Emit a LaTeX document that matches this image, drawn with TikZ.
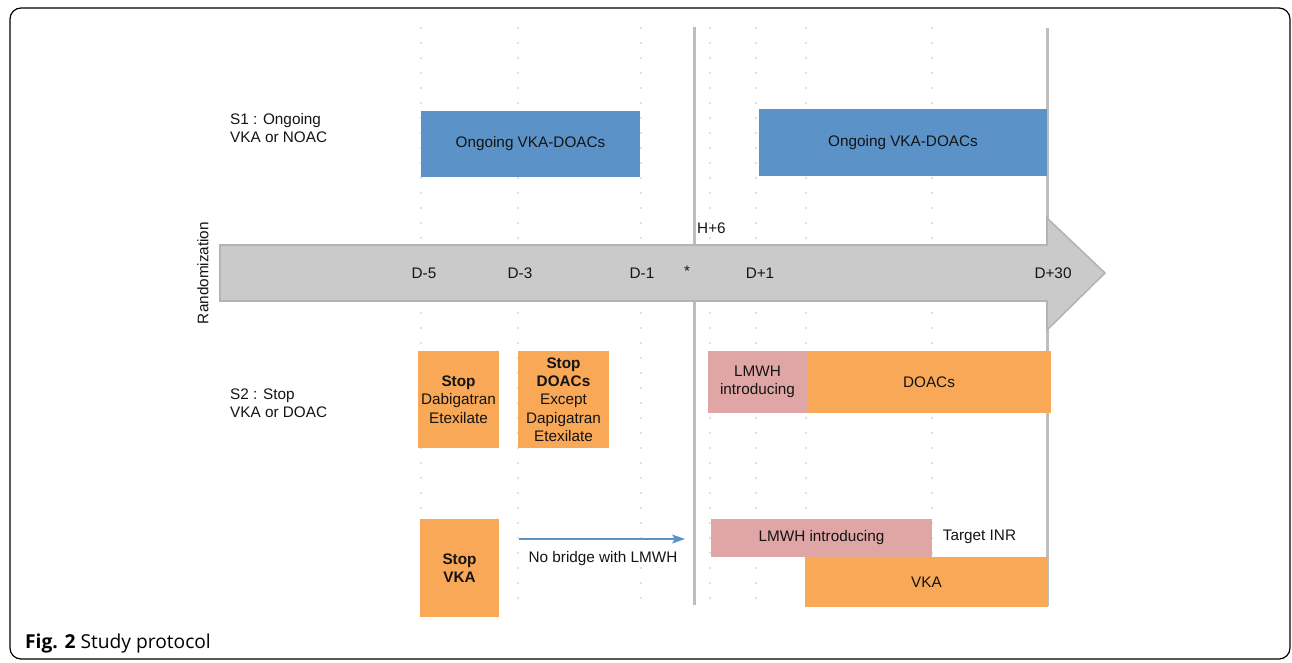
\documentclass[tikz,border=0pt]{standalone}
\usepackage{fontspec}
\setmainfont{Liberation Sans}
\newfontfamily\capfont{Open Sans}
\usetikzlibrary{arrows.meta}
\definecolor{blueb}{RGB}{91,146,200}
\definecolor{orangeb}{RGB}{248,168,86}
\definecolor{pinkb}{RGB}{224,166,166}
\definecolor{arrfill}{RGB}{202,202,202}
\definecolor{arrline}{RGB}{180,180,180}
\definecolor{vline}{RGB}{190,190,190}
\definecolor{dotc}{RGB}{225,225,225}
\definecolor{txt}{RGB}{20,20,20}
\begin{document}
\begin{tikzpicture}[x=1pt,y=-1pt,
  every node/.style={text=txt,font=\fontsize{15.3}{18.3}\selectfont,inner sep=0pt},
  bluebox/.style={fill=blueb,align=center},
  orbox/.style={fill=orangeb,align=center},
  pkbox/.style={fill=pinkb,align=center},
  lbl/.style={align=left,anchor=west},
  dotline/.style={dotc,line width=2.2pt,dash pattern=on 2.2pt off 12.8pt},
  sepline/.style={vline,line width=3pt}]
\useasboundingbox (0,0) rectangle (1292,662);
% frame
\draw[black,line width=1.2pt,rounded corners=11pt] (10,8) rectangle (1290,659);
% dotted columns
\foreach \xx in {421,518,641,710,756,806,932}{
  \draw[dotline] (\xx,27) -- (\xx,605);
}
% solid vertical lines
\draw[sepline] (694,27) -- (694,605);
\draw[sepline] (1047,28) -- (1047,606);
% big timeline arrow
\draw[fill=arrfill,draw=arrline,line width=1.6pt]
  (220,245) -- (1047,245) -- (1047,218) -- (1105,273) -- (1047,330) -- (1047,301) -- (220,301) -- cycle;
\node[rotate=90] (rand) at (203,273) {Randomization};
\node (d5) at (424,273) {D-5};
\node (d3) at (520,273) {D-3};
\node (d1) at (642,273) {D-1};
\node (star) at (687,271) {*};
\node (dp1) at (760,273) {D+1};
\node (d30) at (1053,273) {D+30};
\node[anchor=west] (h6) at (697,228) {H+6};
% S1
\node[lbl] (s1) at (230,128) {S1 : Ongoing\\VKA or NOAC};
\node[bluebox,minimum width=219pt,minimum height=66pt] (b1) at (530.5,144) {Ongoing VKA-DOACs};
\node[bluebox,minimum width=288pt,minimum height=67pt] (b2) at (903,142.5) {Ongoing VKA-DOACs};
% S2
\node[lbl] (s2) at (230,403) {S2 : Stop\\VKA or DOAC};
\node[orbox,minimum width=81pt,minimum height=97pt] (sd) at (458.5,399.5) {\textbf{Stop}\\Dabigatran\\Etexilate};
\node[orbox,minimum width=91pt,minimum height=97pt] (sdo) at (563.5,399.5) {\textbf{Stop}\\\textbf{DOACs}\\Except\\Dapigatran\\Etexilate};
\node[pkbox,minimum width=99pt,minimum height=62pt] (lm1) at (757.5,382) {LMWH\\introducing};
\node[orbox,minimum width=244pt,minimum height=62pt] (doac) at (929,382) {DOACs};
\node[orbox,minimum width=79pt,minimum height=98pt] (sv) at (459.5,568) {\textbf{Stop}\\\textbf{VKA}};
\node[pkbox,minimum width=221pt,minimum height=38pt] (lm2) at (821.5,538) {LMWH introducing};
\node (inr) at (979.5,537) {Target INR};
\node[orbox,minimum width=243pt,minimum height=50pt] (vka) at (926.5,582) {VKA};
% no bridge arrow
\coordinate (nbs) at (519,539);
\coordinate (nbe) at (685,539);
\draw[blueb,line width=1.6pt,-{Stealth[length=13pt,width=9pt,inset=3pt]}] (nbs) -- (nbe);
\node (nb) at (603,559) {No bridge with LMWH};
% caption
\node[anchor=base west,font=\capfont\fontsize{19.2}{22}\selectfont,text=black] (cap) at (25,648) {\textbf{Fig. 2} Study protocol};
\end{tikzpicture}
\end{document}
